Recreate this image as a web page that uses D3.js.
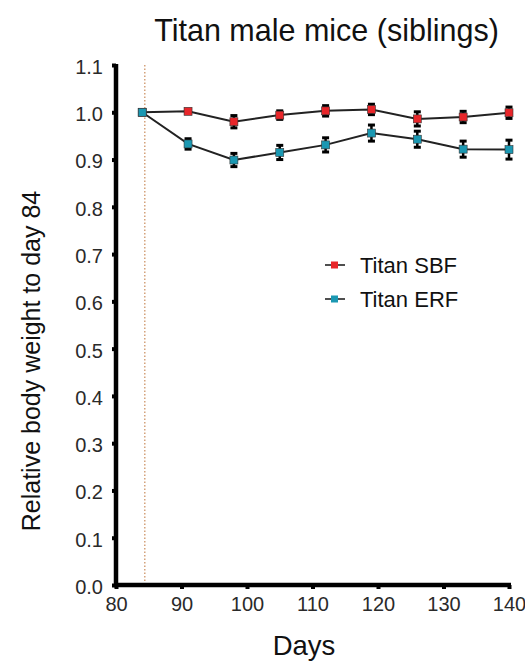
<!DOCTYPE html>
<html>
<head>
<meta charset="utf-8">
<script src="https://cdn.jsdelivr.net/npm/d3@7/dist/d3.min.js"></script>
<style>
  html, body { margin: 0; padding: 0; background: #fff; }
  svg { display: block; font-family: "Liberation Sans", Arial, sans-serif; }
</style>
</head>
<body>
<svg id="chart" width="525" height="664"></svg>
<script>
// Relative body weight (normalised to day 84), mean ± SEM
const days = [84, 91, 98, 105, 112, 119, 126, 133, 140];
const sbfMean = [1.000, 1.002, 0.980, 0.994, 1.003, 1.006, 0.986, 0.990, 0.999];
const sbfErr  = [0.000, 0.004, 0.013, 0.009, 0.011, 0.011, 0.015, 0.012, 0.012];
const erfMean = [1.000, 0.933, 0.899, 0.915, 0.931, 0.956, 0.943, 0.922, 0.921];
const erfErr  = [0.000, 0.011, 0.014, 0.015, 0.015, 0.017, 0.017, 0.017, 0.020];
const seriesNames = ["Titan SBF", "Titan ERF"];
const seriesColors = ["#e8262a", "#1b98b2"];
const xTicks = [80, 90, 100, 110, 120, 130, 140];
const yTicks = [0.0, 0.1, 0.2, 0.3, 0.4, 0.5, 0.6, 0.7, 0.8, 0.9, 1.0, 1.1];
const refDay = 84.4;

const svg = d3.select("#chart");
const x = d3.scaleLinear().domain([80, 140]).range([116, 509]);
const y = d3.scaleLinear().domain([0, 1.1]).range([585, 65]);

// Title and axis titles
svg.append("text").attr("x", 326.5).attr("y", 41).attr("text-anchor", "middle")
  .attr("font-size", 30.5).attr("fill", "#111").text("Titan male mice (siblings)");
svg.append("text").attr("x", 304).attr("y", 655).attr("text-anchor", "middle")
  .attr("font-size", 27.5).attr("fill", "#111").text("Days");
svg.append("text").attr("transform", "translate(40,361) rotate(-90)")
  .attr("text-anchor", "middle").attr("font-size", 25).attr("fill", "#111")
  .text("Relative body weight to day 84");

// Reference day marker
svg.append("line").attr("x1", x(refDay)).attr("x2", x(refDay))
  .attr("y1", y(1.1)).attr("y2", y(0))
  .attr("stroke", "#c98a5a").attr("stroke-width", 1.2).attr("stroke-dasharray", "1.5,2");

// Axes
const xAxis = svg.append("g").attr("transform", `translate(0,${y(0)})`)
  .call(d3.axisBottom(x).tickValues(xTicks).tickSize(4).tickPadding(8).tickFormat(d3.format("d")));
const yAxis = svg.append("g").attr("transform", `translate(${x(80)},0)`)
  .call(d3.axisLeft(y).tickValues(yTicks).tickSize(4).tickPadding(9).tickFormat(d3.format(".1f")));
[xAxis, yAxis].forEach(g => {
  g.select(".domain").attr("stroke", "#000").attr("stroke-width", 4.5);
  g.selectAll(".tick line").attr("stroke", "#000").attr("stroke-width", 4);
  g.selectAll(".tick text").attr("font-size", 20).attr("fill", "#2a2a2a")
    .attr("font-family", "'Liberation Sans', Arial, sans-serif");
});
yAxis.selectAll(".tick text").attr("dy", "0.42em");
// squared-off domain so the two axes meet cleanly
xAxis.select(".domain").attr("d", `M${x(80) - 2},0H${x(140) + 2}`);
yAxis.select(".domain").attr("d", `M0,${y(1.1) - 1}V${y(0) + 2}`);

const series = [
  { name: seriesNames[0], color: seriesColors[0], mean: sbfMean, err: sbfErr },
  { name: seriesNames[1], color: seriesColors[1], mean: erfMean, err: erfErr }
];

const line = d3.line().x((d, i) => x(days[i])).y(d => y(d));

series.forEach(s => {
  const g = svg.append("g");
  g.append("path").datum(s.mean).attr("d", line)
    .attr("fill", "none").attr("stroke", "#222").attr("stroke-width", 2);
  // error bars with chunky caps
  days.forEach((d, i) => {
    if (s.err[i] <= 0) return;
    const cx = x(d), top = y(s.mean[i] + s.err[i]), bot = y(s.mean[i] - s.err[i]);
    g.append("line").attr("x1", cx).attr("x2", cx).attr("y1", top).attr("y2", bot)
      .attr("stroke", "#000").attr("stroke-width", 2.5);
    [top, bot].forEach(yy => g.append("rect")
      .attr("x", cx - 3.5).attr("y", yy - 1.5).attr("width", 7).attr("height", 3).attr("fill", "#000"));
  });
});
// markers drawn last so they sit above lines and bars
series.forEach(s => {
  svg.append("g").selectAll("rect").data(s.mean).join("rect")
    .attr("x", (d, i) => x(days[i]) - 4).attr("y", d => y(d) - 4)
    .attr("width", 8).attr("height", 8)
    .attr("fill", s.color).attr("stroke", "#333").attr("stroke-width", 0.6);
});

// Legend
const legendY = [265, 299];
series.forEach((s, i) => {
  const ly = legendY[i];
  const g = svg.append("g");
  g.append("line").attr("x1", 325).attr("x2", 345).attr("y1", ly).attr("y2", ly)
    .attr("stroke", "#222").attr("stroke-width", 1.6);
  g.append("rect").attr("x", 331).attr("y", ly - 3.5).attr("width", 7).attr("height", 7)
    .attr("fill", s.color);
  g.append("text").attr("x", 360).attr("y", ly + 7.5).attr("font-size", 22)
    .attr("fill", "#111").text(s.name);
});
</script>
</body>
</html>
